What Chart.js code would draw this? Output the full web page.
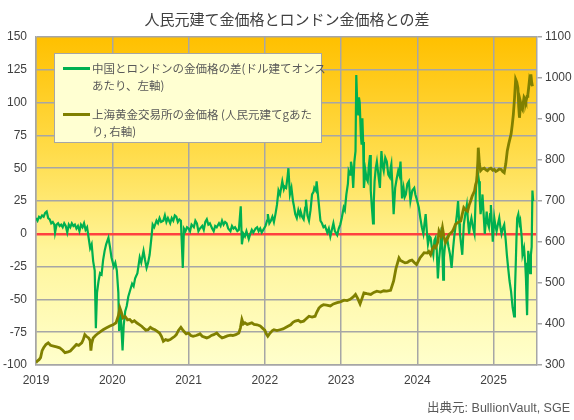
<!DOCTYPE html>
<html>
<head>
<meta charset="utf-8">
<script src="https://cdn.jsdelivr.net/npm/chart.js@4.4.1/dist/chart.umd.min.js"></script>
<style>
  html, body { margin: 0; padding: 0; background: #ffffff; }
  #wrap { position: relative; width: 574px; height: 420px; overflow: hidden; }
  #c { position: absolute; left: 0; top: 0; }
  #legend { position: absolute; left: 54px; top: 53px; width: 268px; height: 90px; background: #FFFFD2; border: 1px solid #A6A6A6; box-sizing: border-box; font-family: "Noto Sans CJK JP", "Liberation Sans", sans-serif; font-size: 11.5px; color: #595959; }
  .sw { position: absolute; left: 8px; width: 27px; height: 3px; }
  .lt { position: absolute; left: 37px; height: 17px; line-height: 17px; white-space: nowrap; }
  #source { position: absolute; right: 4px; top: 397px; font-family: "Liberation Sans", "Noto Sans CJK JP", sans-serif; font-size: 12.5px; color: #595959; white-space: nowrap; }
</style>
</head>
<body>
<div id="wrap">
  <canvas id="c" width="574" height="420"></canvas>
  <div id="legend"></div>
  <div id="source"></div>
</div>
<script>
// ---- text ----
const chartTitle = "人民元建て金価格とロンドン金価格との差";
const seriesLines = [
  ["中国とロンドンの金価格の差(ドル建てオンス", "あたり、左軸)"],
  ["上海黄金交易所の金価格 (人民元建てgあた", "り, 右軸)"]
];
const sourceText = "出典元: BullionVault, SGE";

// ---- tick labels ----
const yearTicks = [2019, 2020, 2021, 2022, 2023, 2024, 2025];
const leftTicks = [-100, -75, -50, -25, 0, 25, 50, 75, 100, 125, 150];
const rightTicks = [300, 400, 500, 600, 700, 800, 900, 1000, 1100];

// ---- series 1: China - London gold price gap (USD/oz, left axis) ----
const gapX = [
2019.00,2019.02,2019.04,2019.06,2019.08,2019.10,2019.12,2019.14,2019.16,2019.18,2019.20,2019.22,2019.24,2019.25,2019.27,2019.29,2019.31,2019.33,2019.35,2019.37,
2019.39,2019.41,2019.43,2019.45,2019.47,2019.49,2019.51,2019.53,2019.55,2019.57,2019.59,2019.61,2019.63,2019.65,2019.67,2019.69,2019.71,2019.73,2019.75,2019.77,
2019.785,2019.80,2019.82,2019.84,2019.86,2019.88,2019.90,2019.92,2019.95,2019.97,2019.99,2020.02,2020.04,2020.06,2020.08,2020.09,2020.11,2020.135,2020.15,2020.17,
2020.19,2020.21,2020.23,2020.26,2020.28,2020.30,2020.33,2020.36,2020.38,2020.41,2020.43,2020.45,2020.47,2020.49,2020.51,2020.53,2020.55,2020.58,2020.60,2020.62,
2020.64,2020.67,2020.69,2020.71,2020.73,2020.76,2020.78,2020.80,2020.82,2020.84,2020.86,2020.88,2020.90,2020.925,2020.94,2020.96,2020.98,2021.00,2021.02,2021.04,
2021.07,2021.09,2021.11,2021.13,2021.15,2021.18,2021.20,2021.22,2021.24,2021.26,2021.28,2021.31,2021.33,2021.35,2021.37,2021.40,2021.42,2021.44,2021.46,2021.48,
2021.50,2021.52,2021.55,2021.57,2021.59,2021.61,2021.64,2021.66,2021.685,2021.70,2021.72,2021.74,2021.76,2021.79,2021.81,2021.83,2021.85,2021.88,2021.90,2021.92,
2021.94,2021.96,2021.98,2022.01,2022.03,2022.04,2022.06,2022.08,2022.10,2022.12,2022.14,2022.16,2022.18,2022.20,2022.23,2022.25,2022.26,2022.28,2022.30,2022.31,
2022.33,2022.35,2022.37,2022.38,2022.40,2022.42,2022.44,2022.46,2022.47,2022.49,2022.51,2022.53,2022.54,2022.56,2022.58,2022.60,2022.62,2022.64,2022.65,2022.67,
2022.68,2022.71,2022.73,2022.75,2022.77,2022.79,2022.82,2022.84,2022.86,2022.88,2022.90,2022.92,2022.95,2022.97,2022.99,2023.01,2023.035,2023.05,2023.07,2023.09,
2023.10,2023.12,2023.13,2023.145,2023.16,2023.175,2023.19,2023.20,2023.215,2023.225,2023.235,2023.245,2023.26,2023.27,2023.28,2023.29,2023.30,2023.32,2023.335,2023.35,
2023.365,2023.38,2023.39,2023.405,2023.42,2023.43,2023.44,2023.455,2023.47,2023.49,2023.51,2023.52,2023.53,2023.545,2023.56,2023.58,2023.60,2023.62,2023.64,2023.65,
2023.66,2023.675,2023.69,2023.70,2023.71,2023.73,2023.75,2023.765,2023.78,2023.80,2023.82,2023.835,2023.85,2023.87,2023.89,2023.91,2023.935,2023.96,2023.975,2023.99,
2024.02,2024.04,2024.06,2024.08,2024.095,2024.11,2024.125,2024.14,2024.16,2024.175,2024.19,2024.21,2024.225,2024.24,2024.255,2024.27,2024.285,2024.30,2024.32,2024.34,
2024.35,2024.36,2024.375,2024.39,2024.41,2024.43,2024.45,2024.47,2024.485,2024.50,2024.52,2024.535,2024.55,2024.56,2024.575,2024.59,2024.61,2024.63,2024.65,2024.665,
2024.68,2024.695,2024.71,2024.73,2024.75,2024.77,2024.79,2024.81,2024.82,2024.83,2024.845,2024.855,2024.87,2024.885,2024.90,2024.91,2024.925,2024.94,2024.955,2024.965,
2024.98,2024.99,2025.01,2025.025,2025.04,2025.06,2025.075,2025.09,2025.105,2025.12,2025.14,2025.16,2025.175,2025.19,2025.21,2025.23,2025.25,2025.27,2025.28,2025.29,
2025.30,2025.31,2025.325,2025.34,2025.35,2025.37,2025.38,2025.40,2025.415,2025.425,2025.44,2025.455,2025.47,2025.48,2025.49,2025.50,2025.51,2025.52
];
const gapY = [
12,10,13,12,14,13,16,17,12,11,8,9,7,1,7,8,6,7,5,8,
6,1,7,5,8,6,7,4,6,2,7,5,8,3,5,-3,-11,-8,-21,-28,
-72,-45,-36,-30,-31,-20,-13,-8,-3,-10,-18,-25,-22,-28,-45,-74,-60,-89,-70,-59,
-55,-48,-44,-38,-40,-34,-30,-18,-22,-13,-20,-26,-22,-16,-5,7,5,10,8,12,
9,10,14,9,12,8,12,10,14,13,9,11,10,-26,4,2,5,4,2,7,
5,10,8,2,4,6,3,9,11,7,8,4,2,6,5,8,6,10,7,9,
8,4,2,6,4,5,2,3,21,-8,0,-2,2,-4,0,3,1,4,5,2,
4,1,3,6,10,15,8,10,13,9,15,22,33,30,40,34,36,35,44,50,
30,35,25,22,15,12,18,14,17,13,11,20,26,14,10,18,30,32,35,33,
40,22,10,8,5,6,1,4,-2,3,8,2,-1,4,7,12,20,18,30,38,
48,45,55,50,35,55,63,121,95,91,104,100,75,68,88,70,35,48,42,40,
52,60,33,20,8,25,40,50,55,45,35,50,63,52,48,58,55,45,43,50,
53,35,15,25,35,42,48,45,55,27,35,28,30,38,40,25,33,35,30,27,
20,12,5,0,8,15,2,-8,-2,-3,-10,-16,-5,-3,-12,-34,-20,-11,5,-35,
-18,-11,-5,-3,-10,-16,-26,-11,-2,5,15,25,8,0,-8,-16,7,15,22,10,
0,8,12,5,0,35,48,40,25,15,22,30,15,0,10,17,8,5,15,22,
5,-6,12,6,2,8,12,5,0,4,7,-5,-16,-25,-36,-44,-56,-63,-45,-26,
-5,12,15,8,10,-3,-16,-11,-22,-34,-62,-13,-21,-30,-16,-10,33,25
];

// ---- series 2: SGE gold price (CNY/g, right axis) ----
const priceX = [
2019.00,2019.02,2019.04,2019.06,2019.08,2019.10,2019.13,2019.16,2019.19,2019.23,2019.27,2019.31,2019.35,2019.38,2019.42,2019.45,2019.49,2019.53,2019.56,2019.60,
2019.62,2019.64,2019.66,2019.69,2019.71,2019.72,2019.73,2019.75,2019.78,2019.82,2019.85,2019.88,2019.92,2019.97,2020.01,2020.05,2020.08,2020.10,2020.12,2020.14,
2020.17,2020.20,2020.23,2020.26,2020.29,2020.32,2020.36,2020.39,2020.41,2020.44,2020.47,2020.50,2020.53,2020.56,2020.59,2020.62,2020.645,2020.67,2020.70,2020.73,
2020.76,2020.79,2020.82,2020.84,2020.87,2020.90,2020.93,2020.97,2021.00,2021.03,2021.06,2021.10,2021.13,2021.15,2021.18,2021.21,2021.24,2021.27,2021.30,2021.33,
2021.37,2021.40,2021.44,2021.47,2021.51,2021.55,2021.58,2021.62,2021.66,2021.68,2021.70,2021.72,2021.74,2021.77,2021.80,2021.83,2021.86,2021.90,2021.94,2021.97,
2022.00,2022.02,2022.04,2022.07,2022.10,2022.12,2022.16,2022.20,2022.24,2022.28,2022.31,2022.34,2022.37,2022.40,2022.44,2022.47,2022.51,2022.54,2022.58,2022.62,
2022.66,2022.68,2022.71,2022.74,2022.77,2022.81,2022.86,2022.90,2022.95,2022.99,2023.04,2023.08,2023.12,2023.16,2023.19,2023.22,2023.25,2023.28,2023.30,2023.34,
2023.39,2023.43,2023.47,2023.52,2023.56,2023.60,2023.65,2023.69,2023.72,2023.76,2023.78,2023.80,2023.84,2023.87,2023.90,2023.93,2023.96,2023.99,2024.035,2024.07,
2024.09,2024.13,2024.15,2024.175,2024.20,2024.22,2024.24,2024.27,2024.285,2024.31,2024.33,2024.35,2024.37,2024.40,2024.42,2024.44,2024.46,2024.48,2024.50,2024.53,
2024.57,2024.59,2024.61,2024.635,2024.66,2024.68,2024.70,2024.72,2024.75,2024.765,2024.78,2024.795,2024.80,2024.815,2024.83,2024.85,2024.88,2024.90,2024.92,2024.94,
2024.965,2024.99,2025.01,2025.03,2025.05,2025.075,2025.10,2025.12,2025.14,2025.16,2025.18,2025.20,2025.23,2025.245,2025.26,2025.275,2025.29,2025.305,2025.32,2025.33,
2025.34,2025.35,2025.36,2025.37,2025.38,2025.39,2025.40,2025.415,2025.425,2025.44,2025.45,2025.46,2025.47,2025.48,2025.49,2025.50,2025.51
];
const priceY = [
306,310,313,318,335,342,350,354,348,346,344,342,336,330,332,334,342,350,348,354,
362,374,370,366,360,335,352,366,372,378,382,386,390,395,398,403,420,439,428,415,
418,410,411,405,408,403,398,394,390,385,386,392,388,386,382,378,370,358,362,360,
362,366,370,374,385,392,384,376,378,372,370,372,374,376,370,368,366,368,372,374,
378,372,366,368,371,373,372,374,378,390,411,400,403,399,401,403,399,398,395,390,
385,376,370,378,384,386,384,386,388,392,395,398,404,407,409,405,407,412,419,417,
419,428,439,444,447,446,444,449,452,454,458,457,460,466,472,462,449,465,476,474,
472,477,480,478,481,480,482,505,535,561,555,553,549,550,554,556,550,545,561,569,
574,573,577,569,584,590,586,600,626,615,635,612,599,610,619,622,626,633,643,647,
651,668,684,678,675,690,700,712,724,740,749,800,830,790,774,778,780,776,774,778,
780,775,777,772,774,778,777,772,769,790,822,840,863,885,911,950,997,990,975,930,
903,925,936,928,924,940,953,948,943,955,959,975,993,985,1009,990,980
];

// ---- legend & source (HTML text) ----
const colors = ["#00B050", "#808000"];
const legendEl = document.getElementById("legend");
const rowTops = [[5.5, 22.5], [51.5, 68.5]];
seriesLines.forEach((lines, i) => {
  const sw = document.createElement("div");
  sw.className = "sw";
  sw.style.top = (rowTops[i][0] + 7) + "px";
  sw.style.background = colors[i];
  legendEl.appendChild(sw);
  lines.forEach((t, j) => {
    const d = document.createElement("div");
    d.className = "lt";
    d.style.top = rowTops[i][j] + "px";
    d.textContent = t;
    legendEl.appendChild(d);
  });
});
document.getElementById("source").textContent = sourceText;

// ---- background gradient plugin ----
const plotBg = {
  id: "plotBg",
  beforeDraw(chart) {
    const { ctx, chartArea: a } = chart;
    const g = ctx.createLinearGradient(0, a.top, 0, a.bottom);
    g.addColorStop(0, "#FFC000");
    g.addColorStop(0.35, "#FFDC4A");
    g.addColorStop(0.65, "#FFF59A");
    g.addColorStop(1, "#FFFFCC");
    ctx.save();
    ctx.fillStyle = g;
    ctx.fillRect(a.left, a.top, a.right - a.left, a.bottom - a.top);
    ctx.restore();
  }
};

const tickFont = { family: "'Liberation Sans', 'Noto Sans CJK JP', sans-serif", size: 12 };
const gridGray = "#A6A6A6";

new Chart(document.getElementById("c"), {
  type: "line",
  data: {
    datasets: [
      {
        label: seriesLines[0].join(""),
        data: gapX.map((x, i) => ({ x: x, y: gapY[i] })),
        yAxisID: "y",
        borderColor: colors[0],
        borderWidth: 2.2,
        pointRadius: 0,
        tension: 0,
        order: 1
      },
      {
        label: seriesLines[1].join(""),
        data: priceX.map((x, i) => ({ x: x, y: priceY[i] })),
        yAxisID: "y1",
        borderColor: colors[1],
        borderWidth: 2.8,
        pointRadius: 0,
        tension: 0,
        order: 0
      }
    ]
  },
  options: {
    responsive: false,
    animation: false,
    layout: { padding: 0 },
    plugins: {
      legend: { display: false },
      tooltip: { enabled: false },
      title: {
        display: true,
        text: chartTitle,
        color: "#404040",
        font: { family: "'Noto Sans CJK JP', sans-serif", size: 15, weight: "normal" },
        padding: { top: 10, bottom: 9 }
      }
    },
    scales: {
      x: {
        type: "linear",
        min: 2019,
        max: 2025.57,
        afterBuildTicks: (s) => { s.ticks = yearTicks.map(v => ({ value: v })); },
        afterFit: (s) => { s.height = 55; },
        ticks: { color: "#404040", font: tickFont, padding: 8, maxRotation: 0, autoSkip: false, callback: (v) => String(v) },
        grid: { color: gridGray, lineWidth: 1.5, drawTicks: false },
        border: { color: gridGray, width: 1.5 }
      },
      y: {
        position: "left",
        min: -100,
        max: 150,
        afterBuildTicks: (s) => { s.ticks = leftTicks.map(v => ({ value: v })); },
        afterFit: (s) => { s.width = 36; },
        ticks: { color: "#404040", font: tickFont, padding: 9, callback: (v) => String(v) },
        grid: {
          color: (c) => (c.tick && c.tick.value === 0 ? "#FF4040" : gridGray),
          lineWidth: (c) => (c.tick && c.tick.value === 0 ? 2.5 : 1.5),
          drawTicks: false
        },
        border: { color: gridGray, width: 1.5 }
      },
      y1: {
        position: "right",
        min: 300,
        max: 1100,
        afterBuildTicks: (s) => { s.ticks = rightTicks.map(v => ({ value: v })); },
        afterFit: (s) => { s.width = 37; },
        ticks: { color: "#404040", font: tickFont, padding: 3, callback: (v) => String(v) },
        grid: { drawOnChartArea: false, drawTicks: true, tickLength: 5, color: gridGray, lineWidth: 1.5 },
        border: { color: gridGray, width: 1.5 }
      }
    }
  },
  plugins: [plotBg]
});
</script>
</body>
</html>
